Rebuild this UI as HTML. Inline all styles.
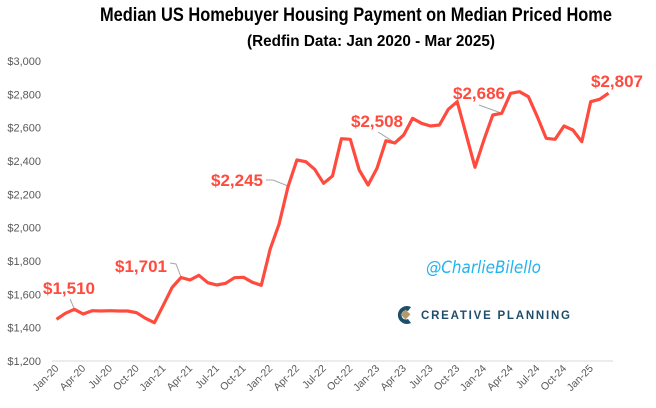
<!DOCTYPE html>
<html><head><meta charset="utf-8"><style>
body{margin:0;background:#fff;width:656px;height:408px;overflow:hidden}
svg{display:block;font-family:"Liberation Sans",sans-serif}
</style></head><body>
<svg width="656" height="408">
<text x="100" y="21" font-size="19" font-weight="bold" fill="#000" textLength="512" lengthAdjust="spacingAndGlyphs">Median US Homebuyer Housing Payment on Median Priced Home</text>
<text x="247" y="46" font-size="16" font-weight="bold" fill="#000" textLength="248" lengthAdjust="spacingAndGlyphs">(Redfin Data: Jan 2020 - Mar 2025)</text>
<g id="yaxis"></g>
<g id="xaxis"></g>
<line x1="52" y1="361" x2="613" y2="361" stroke="#d9d9d9" stroke-width="1"/>
<g stroke="#a6a6a6" stroke-width="1" fill="none">
<polyline points="70,299 74,308"/>
<polyline points="170,263 176,264 181,277"/>
<polyline points="266,180 273,180 288,186"/>
<polyline points="378,132 394,142"/>
<polyline points="479,105 501,113"/>
</g>
<path id="line" fill="none" stroke="#ff4b3e" stroke-width="3.2" stroke-linejoin="round"/>
<g font-size="17" font-weight="bold" fill="#ff4b3e" text-anchor="middle">
<text x="69" y="294">$1,510</text>
<text x="141" y="272">$1,701</text>
<text x="237" y="186">$2,245</text>
<text x="377" y="127">$2,508</text>
<text x="479" y="99">$2,686</text>
<text x="617" y="87">$2,807</text>
</g>
<text x="426" y="273" font-size="17" font-style="italic" fill="#20b4ef" textLength="115" lengthAdjust="spacingAndGlyphs" font-family="'DejaVu Sans',sans-serif">@CharlieBilello</text>
<g>
<path d="M411,307 A9,9 0 1 0 411,323 L408,319 A4.5,4.5 0 1 1 408,311 Z" fill="#1f4e6b"/>
<rect x="402" y="311" width="7" height="7" transform="rotate(45 405.5 314.5)" fill="#b49a6a"/>
<text x="421" y="319" font-size="11.5" font-weight="bold" letter-spacing="2" textLength="151" fill="#1f4e6b">CREATIVE PLANNING</text>
</g>
</svg>
<script>
const yTicks=[1200,1400,1600,1800,2000,2200,2400,2600,2800,3000];
const xTickLabels=["Jan-20","Apr-20","Jul-20","Oct-20","Jan-21","Apr-21","Jul-21","Oct-21","Jan-22","Apr-22","Jul-22","Oct-22","Jan-23","Apr-23","Jul-23","Oct-23","Jan-24","Apr-24","Jul-24","Oct-24","Jan-25"];
const values=[1450,1486,1510,1482,1502,1500,1502,1500,1500,1490,1456,1430,1535,1642,1701,1686,1714,1670,1656,1666,1700,1702,1672,1654,1872,2022,2245,2406,2396,2350,2266,2310,2534,2530,2346,2256,2356,2522,2508,2556,2656,2626,2610,2616,2710,2756,2560,2362,2526,2676,2686,2806,2816,2786,2666,2536,2530,2610,2586,2516,2756,2770,2807];
const NS="http://www.w3.org/2000/svg";
const x0=52,x1=613,yTop=61,yBot=361,vMin=1200,vMax=3000;
const step=(x1-x0)/values.length;
const X=i=>x0+step/2+step*i;
const Y=v=>yBot-(v-vMin)/(vMax-vMin)*(yBot-yTop);
const ya=document.getElementById('yaxis');
yTicks.forEach(t=>{
  const e=document.createElementNS(NS,'text');
  
  
  e.setAttribute('x',41);e.setAttribute('y',Y(t)+4);
  e.setAttribute('text-anchor','end');e.setAttribute('font-size','11');e.setAttribute('fill','#595959');
  e.textContent='$'+t.toLocaleString('en-US');ya.appendChild(e);
});
const xa=document.getElementById('xaxis');
xTickLabels.forEach((l,k)=>{
  const e=document.createElementNS(NS,'text');
  
  
  const x=X(k*3)+3,y=369;
  e.setAttribute('x',x);e.setAttribute('y',y);
  e.setAttribute('text-anchor','end');e.setAttribute('font-size','10.5');e.setAttribute('fill','#595959');
  e.setAttribute('transform','rotate(-45 '+x+' '+y+')');
  e.textContent=l;xa.appendChild(e);
});
document.getElementById('line').setAttribute('d',values.map((v,i)=>(i?'L':'M')+X(i).toFixed(1)+','+Y(v).toFixed(1)).join(''));
</script>
</body></html>
